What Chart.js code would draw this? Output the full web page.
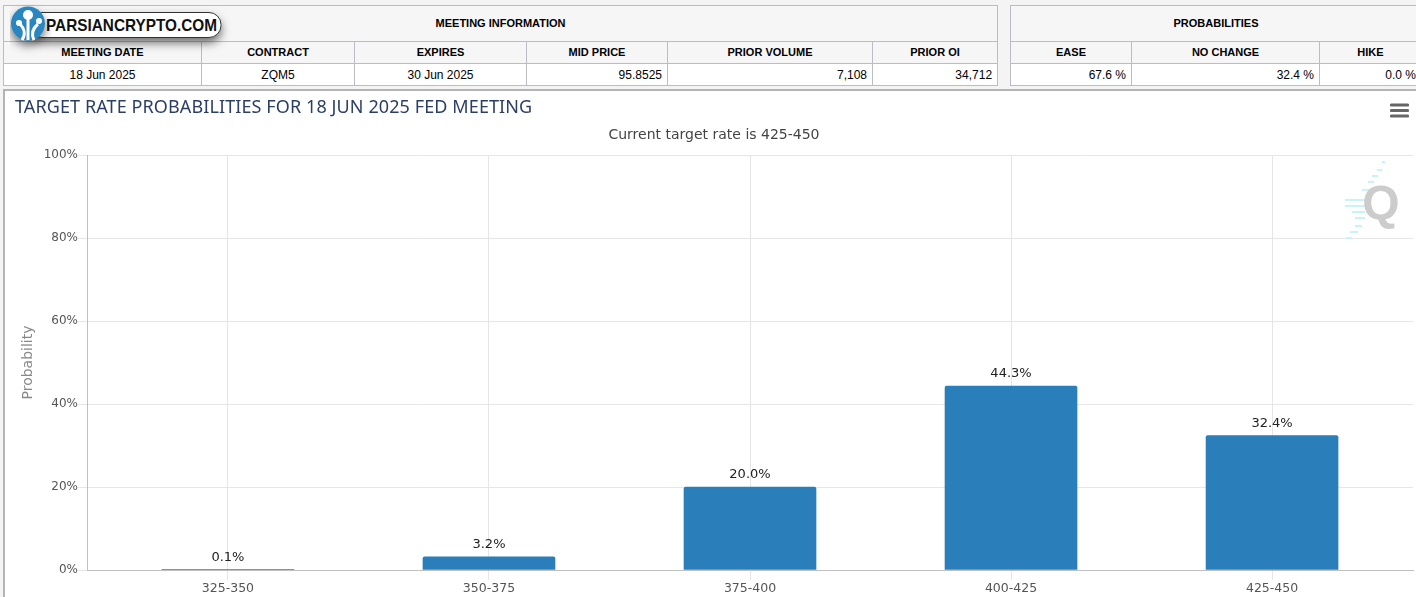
<!DOCTYPE html>
<html>
<head>
<meta charset="utf-8">
<script src="https://cdn.jsdelivr.net/npm/chart.js@4/dist/chart.umd.min.js"></script>
<style>
  html, body { margin: 0; padding: 0; width: 1416px; height: 597px; overflow: hidden; background: #f4f4f5; }
  table { position: absolute; top: 5px; border-collapse: collapse; table-layout: fixed; font: 12px "Liberation Sans", Arial, sans-serif; color: #000; }
  td, th { border: 1px solid #bcbcc8; padding: 0 5px; box-sizing: border-box; overflow: hidden; white-space: nowrap; }
  th { background: #f6f6f7; font-size: 11px; font-weight: bold; text-align: center; padding-bottom: 2px; }
  td { background: #fff; }
  tr.top { height: 36px; } tr.mid { height: 22px; } tr.val { height: 22px; }
  #panel { position: absolute; left: 3px; top: 89px; width: 1413px; height: 508px; background: #fff; border-top: 2px solid #b4b4b4; border-left: 2px solid #b4b4b4; box-sizing: border-box; }
  #wrap { position: absolute; left: 0; top: 89px; width: 1416px; height: 508px; }
  #title { position: absolute; left: 15px; top: 94px; font: 18px "Noto Sans", sans-serif; letter-spacing: .1px; color: #2b3f66; white-space: nowrap; }
  #sub { position: absolute; left: 414px; width: 600px; top: 126px; text-align: center; font: 14px "DejaVu Sans", sans-serif; color: #444; }
  #menu { position: absolute; left: 1390px; top: 103px; width: 19px; height: 15px; }
  #logo { position: absolute; left: 10px; top: 4px; }
  #mark { position: absolute; left: 1340px; top: 159px; }
</style>
</head>
<body>
<table id="t1" style="left:3px;width:994px"></table>
<table id="t2" style="left:1010px;width:411px"></table>
<div id="panel"></div>
<div id="wrap"><canvas id="chart"></canvas></div>
<div id="title">TARGET RATE PROBABILITIES FOR 18 JUN 2025 FED MEETING</div>
<div id="sub">Current target rate is 425-450</div>
<svg id="menu" viewBox="0 0 19 15"><path d="M1.5 2h16M1.5 7.5h16M1.5 13h16" stroke="#666" stroke-width="3.2" stroke-linecap="round"/></svg>
<svg id="mark" width="64" height="84" viewBox="0 0 64 84">
  <path d="M42 3h3M37 11h5M32 17h6M28 23h6M22 31h10M5 41h25M5 47h23M12 53h13M15 59h10M15 67h7M10 73h8M6 79h6" stroke="#c8f3f7" stroke-width="2"/>
  <text x="41" y="60" text-anchor="middle" font-family="Liberation Sans" font-weight="bold" font-size="48" fill="#cccccc">Q</text>
</svg>
<svg id="logo" width="240" height="60" viewBox="0 0 240 60">
  <defs><filter id="s" x="-20%" y="-40%" width="140%" height="220%"><feDropShadow dx="0" dy="5" stdDeviation="5" flood-color="#000" flood-opacity=".55"/></filter></defs>
  <rect x="20" y="8.5" width="191" height="25" rx="12" fill="#fff" stroke="#333" filter="url(#s)"/>
  <circle cx="18" cy="19.5" r="17" fill="#2a86c0" filter="url(#s)"/>
  <path d="M12 36c4-6 3-11-3-17M18 36V15M24 36c-3-6-2-11 4-16" stroke="#fff" stroke-width="3" fill="none"/>
  <circle cx="9" cy="19" r="3" fill="#fff"/><circle cx="18" cy="11" r="5" fill="#fff"/><circle cx="29" cy="17" r="3" fill="#fff"/>
  <text x="36" y="27" font-family="Liberation Sans" font-weight="bold" font-size="17" fill="#111" textLength="171" lengthAdjust="spacingAndGlyphs">PARSIANCRYPTO.COM</text>
</svg>
<script>
const categories = ["325-350", "350-375", "375-400", "400-425", "425-450"];
const probabilities = [0.1, 3.2, 20.0, 44.3, 32.4];
const probLabels = ["0.1%", "3.2%", "20.0%", "44.3%", "32.4%"];

const infoTitle = "MEETING INFORMATION";
const infoHead = ["MEETING DATE", "CONTRACT", "EXPIRES", "MID PRICE", "PRIOR VOLUME", "PRIOR OI"];
const infoRow = ["18 Jun 2025", "ZQM5", "30 Jun 2025", "95.8525", "7,108", "34,712"];
const infoWidths = [198, 153, 172, 141, 205, 125];
const infoAlign = ["center", "center", "center", "right", "right", "right"];

const probTitle = "PROBABILITIES";
const probHead = ["EASE", "NO CHANGE", "HIKE"];
const probRow = ["67.6 %", "32.4 %", "0.0 %"];
const probWidths = [121, 188, 102];

function buildTable(id, title, head, row, widths, align) {
  const cols = widths.map(w => `<col style="width:${w}px">`).join("");
  const heads = head.map(h => `<th>${h}</th>`).join("");
  const cells = row.map((c, i) => `<td style="text-align:${align[i]}">${c}</td>`).join("");
  document.getElementById(id).innerHTML = `<colgroup>${cols}</colgroup>
    <tr class="top"><th colspan="${head.length}">${title}</th></tr>
    <tr class="mid">${heads}</tr>
    <tr class="val">${cells}</tr>`;
}
buildTable("t1", infoTitle, infoHead, infoRow, infoWidths, infoAlign);
buildTable("t2", probTitle, probHead, probRow, probWidths, ["right", "right", "right"]);

// value labels over the bars
const barLabels = {
  id: "barLabels",
  afterDatasetsDraw(chart) {
    const ctx = chart.ctx;
    ctx.save();
    ctx.font = '13px "DejaVu Sans", sans-serif';
    ctx.fillStyle = "#222";
    ctx.textAlign = "center";
    ctx.textBaseline = "alphabetic";
    chart.getDatasetMeta(0).data.forEach((bar, i) => {
      ctx.fillText(probLabels[i], bar.x, bar.y - 9);
    });
    ctx.restore();
  }
};

new Chart(document.getElementById("chart"), {
  type: "bar",
  data: {
    datasets: [{
      data: categories.map((c, i) => ({ x: i, y: probabilities[i] })),
      backgroundColor: "#2a7fba",
      barThickness: 132,
      borderRadius: { topLeft: 2, topRight: 2 },
      borderSkipped: "bottom"
    }]
  },
  options: {
    responsive: true,
    maintainAspectRatio: false,
    animation: false,
    layout: { padding: { top: 66, right: 3, left: 0, bottom: 0 } },
    plugins: { legend: { display: false }, tooltip: { enabled: false } },
    scales: {
      x: {
        type: "linear",
        offset: false,
        min: -0.54,
        max: 4.54,
        afterFit(s) { s.height = 27; },
        grid: { offset: false, color: "#e6e6e6", tickLength: 10, tickColor: "#e6e6e6" },
        border: { color: "#c0c0c0", z: 1 },
        ticks: {
          stepSize: 1,
          includeBounds: false,
          maxRotation: 0,
          padding: 1,
          color: "#555",
          font: { family: "DejaVu Sans", size: 12.5 },
          callback: v => categories[v]
        }
      },
      y: {
        min: 0,
        max: 100,
        afterFit(s) { s.width = 87; },
        grid: { color: "#e6e6e6", tickLength: 9, tickColor: "#e6e6e6" },
        border: { color: "#c0c0c0" },
        title: { display: true, text: "Probability", color: "#888", font: { family: "DejaVu Sans", size: 14 }, padding: { top: 20, bottom: 0 } },
        ticks: {
          stepSize: 20,
          padding: 0,
          color: "#555",
          font: { family: "DejaVu Sans", size: 12 },
          callback: v => v + "%"
        }
      }
    }
  },
  plugins: [barLabels]
});
</script>
</body>
</html>
